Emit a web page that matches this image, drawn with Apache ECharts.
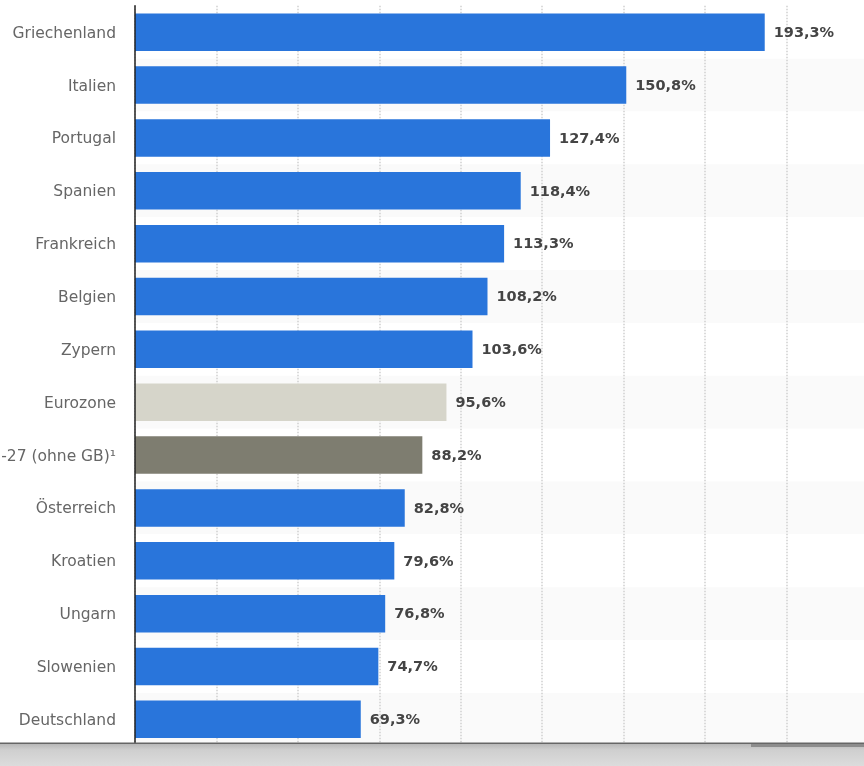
<!DOCTYPE html>
<html>
<head>
<meta charset="utf-8">
<style>
  html, body { margin: 0; padding: 0; background: #fff; overflow: hidden; }
  #chart { width: 864px; height: 766px; }
</style>
<script src="https://cdn.jsdelivr.net/npm/echarts@6/dist/echarts.min.js"></script>
</head>
<body>
<div id="chart"></div>
<script>
const categories = [
  'Griechenland', 'Italien', 'Portugal', 'Spanien', 'Frankreich', 'Belgien', 'Zypern',
  'Eurozone', 'EU-27 (ohne GB)¹', 'Österreich', 'Kroatien', 'Ungarn', 'Slowenien', 'Deutschland'
]
const values = [193.3, 150.8, 127.4, 118.4, 113.3, 108.2, 103.6, 95.6, 88.2, 82.8, 79.6, 76.8, 74.7, 69.3]

const FONT = '"DejaVu Sans", sans-serif'
const BAR_COLOR = '#2975db'
const SPECIAL_COLORS = { 'Eurozone': '#d6d5ca', 'EU-27 (ohne GB)¹': '#7e7d70' }

const chart = echarts.init(document.getElementById('chart'), null, { renderer: 'canvas' })

chart.setOption({
  animation: false,
  backgroundColor: '#fff',
  // the long label runs off the left edge in the reference, so no outer bounds
  grid: { left: 135, top: 5.8, width: 733, height: 740, containLabel: false, outerBoundsMode: 'none' },
  xAxis: {
    type: 'value',
    min: 0,
    max: 225,
    interval: 25,
    axisLine: { show: false },
    axisTick: { show: false },
    axisLabel: { show: false },
    splitLine: { show: true, lineStyle: { color: '#d0d0d0', type: 'dotted', width: 1.5 } }
  },
  yAxis: [
    {
      type: 'category',
      inverse: true,
      data: categories,
      axisLine: { show: false },
      axisTick: { show: false },
      axisLabel: {
        fontFamily: FONT,
        margin: 19,
        hideOverlap: false,
        formatter: '{name|{value}}',
        rich: { name: { color: '#666', fontFamily: FONT, fontSize: 15.5, padding: [3, 0, 0, 0] } }
      },
      splitArea: { show: true, areaStyle: { color: ['#fff', '#fafafa'] } }
    },
    {
      // second axis only for the line, so it sits on top of the bars
      type: 'category',
      position: 'left',
      inverse: true,
      z: 5,
      data: categories,
      axisLine: { show: true, onZero: false, lineStyle: { color: '#222', width: 1.5 } },
      axisTick: { show: false },
      axisLabel: { show: false },
      splitLine: { show: false }
    }
  ],
  series: [{
    type: 'bar',
    data: values,
    barWidth: 37.5,
    itemStyle: { color: (p) => SPECIAL_COLORS[p.name] || BAR_COLOR },
    label: {
      show: true,
      position: 'right',
      distance: 9,
      offset: [0, 1],
      color: '#444',
      fontFamily: FONT,
      fontSize: 14.5,
      fontWeight: 'bold',
      formatter: (p) => p.value.toFixed(1).replace('.', ',') + '%'
    }
  }],
  // grey browser strip under the chart
  graphic: [
    {
      type: 'rect',
      z: 100,
      shape: { x: 0, y: 743, width: 864, height: 23 },
      style: {
        fill: new echarts.graphic.LinearGradient(0, 0, 0, 1, [
          { offset: 0, color: '#b4b4b4' },
          { offset: 0.3, color: '#cfcfcf' },
          { offset: 1, color: '#dcdcdc' }
        ])
      }
    },
    { type: 'rect', z: 101, shape: { x: 0, y: 742.5, width: 864, height: 1.5 }, style: { fill: '#666' } },
    { type: 'rect', z: 101, shape: { x: 751, y: 744, width: 113, height: 3 }, style: { fill: '#8c8c8c' } }
  ]
})

window.addEventListener('resize', () => chart.resize())
</script>
</body>
</html>
